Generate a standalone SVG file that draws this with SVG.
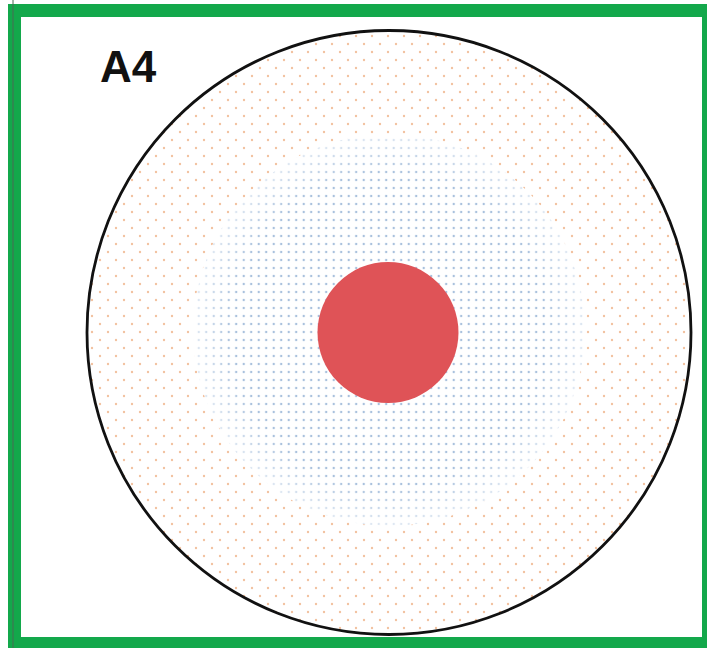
<svg xmlns="http://www.w3.org/2000/svg" width="707" height="648" viewBox="0 0 707 648">
  <style>
    .frame { fill: #13a84b; fill-rule: evenodd; }
    .label { font-family: "Liberation Sans", Arial, sans-serif; font-weight: bold; font-size: 44px; fill: #111; }
  </style>
  <defs>
    <pattern id="orangeDots" x="0" y="0" width="16" height="16" patternUnits="userSpaceOnUse">
      <circle cx="4" cy="4" r="1.2" fill="#f2c2a0"/>
      <circle cx="12" cy="12" r="1.2" fill="#f2c2a0"/>
    </pattern>
    <pattern id="blueDots" x="0" y="0" width="7.5" height="8" patternUnits="userSpaceOnUse">
      <circle cx="3.7" cy="4" r="1.2" fill="#a9c1dd"/>
    </pattern>
    <radialGradient id="fade" cx="0.5" cy="0.5" r="0.5">
      <stop offset="0.8" stop-color="#fff" stop-opacity="1"/>
      <stop offset="1" stop-color="#fff" stop-opacity="0.35"/>
    </radialGradient>
    <mask id="blueMask">
      <circle cx="389" cy="330" r="196" fill="url(#fade)"/>
    </mask>
  </defs>
  <rect width="707" height="648" fill="#ffffff"/>
  <g id="outer-circle">
    <circle cx="389" cy="332.5" r="302" fill="url(#orangeDots)"/>
    <circle cx="389" cy="332.5" r="302" fill="none" stroke="#111" stroke-width="2.8"/>
  </g>
  <g id="middle-disc">
    <circle cx="389" cy="330" r="196" fill="#ffffff"/>
    <circle cx="389" cy="330" r="196" fill="url(#blueDots)" mask="url(#blueMask)"/>
  </g>
  <g id="core">
    <circle cx="388" cy="332.5" r="70.5" fill="#df5357"/>
  </g>
  <g id="label">
    <text class="label" x="100" y="82">A4</text>
  </g>
  <g id="frame">
    <path class="frame" d="M8 4 H707 V648 H8 Z M21 17 V637 H702 V17 Z"/>
    <line x1="13" y1="0" x2="13" y2="648" stroke="#4a6a55" stroke-width="1"/>
  </g>
</svg>
